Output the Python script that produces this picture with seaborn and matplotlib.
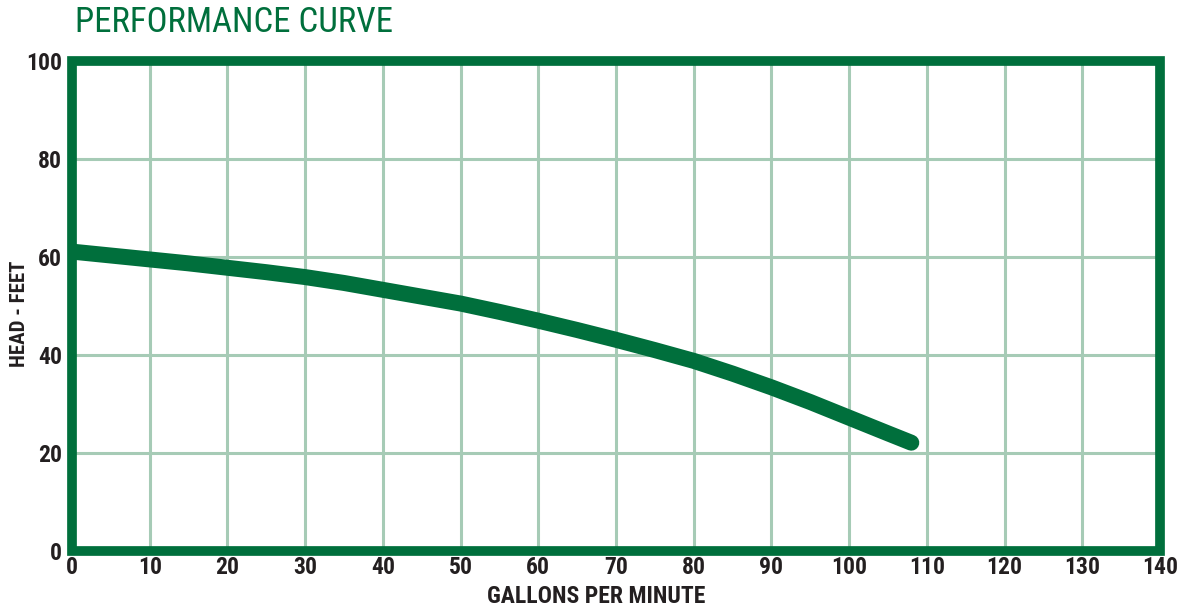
import numpy as np
import pandas as pd
import seaborn as sns
import matplotlib
matplotlib.use("Agg")
import matplotlib.pyplot as plt
from matplotlib.patches import Rectangle

# values
gpm = [0, 5, 10, 15, 20, 25, 30, 35, 40, 45, 50, 55, 60, 65, 70, 75, 80, 85,
       90, 95, 100, 105, 108]
head = [61.0, 60.2, 59.4, 58.6, 57.7, 56.8, 55.8, 54.6, 53.2, 51.8, 50.4,
        48.7, 46.9, 45.0, 43.0, 40.9, 38.7, 36.1, 33.3, 30.3, 27.1, 23.9, 22.0]
x_ticks = list(range(0, 141, 10))
y_ticks = list(range(0, 101, 20))

green = "#006f3c"
grid_green = "#a6cbb6"
ink = "#231f20"

sns.set_theme(style="white")
narrow = ["Roboto Condensed", "Liberation Sans Narrow", "Roboto", "DejaVu Sans"]
plt.rcParams["font.family"] = narrow

df = pd.DataFrame({"gpm": gpm, "head": head})

fig = plt.figure(figsize=(11.89, 6.11), dpi=100)
ax = fig.add_axes([72 / 1189, (611 - 550.5) / 611, 1088 / 1189, 490 / 611])

sns.lineplot(data=df, x="gpm", y="head", ax=ax, color=green, linewidth=11.5,
             solid_capstyle="round", zorder=3)

ax.set_xlim(0, 140)
ax.set_ylim(0, 100)
ax.set_xticks(x_ticks)
ax.set_yticks(y_ticks)
ax.grid(True, color=grid_green, linewidth=2.2)
ax.set_axisbelow(True)

# thick frame drawn as one rectangle so the corners join cleanly
for s in ax.spines.values():
    s.set_visible(False)
ax.add_patch(Rectangle((0, 0), 1, 1, transform=ax.transAxes, fill=False,
                       edgecolor=green, linewidth=7, joinstyle="miter",
                       clip_on=False, zorder=4))

ax.tick_params(axis="both", length=0, labelsize=17, labelcolor=ink)
ax.tick_params(axis="x", pad=4)
ax.tick_params(axis="y", pad=7)
for lab in ax.get_xticklabels() + ax.get_yticklabels():
    lab.set_fontweight("bold")
    lab.set_family(narrow)

ax.set_xlabel("GALLONS PER MINUTE", fontsize=17, fontweight="bold", color=ink)
ax.set_ylabel("HEAD - FEET", fontsize=15, fontweight="bold", color=ink)
ax.xaxis.set_label_coords(0.4816, -0.0929)
ax.yaxis.set_label_coords(-0.0478, 0.483)
ax.xaxis.label.set_va("center")
ax.yaxis.label.set_va("center")

fig.text(75 / 1189, 1 - 22 / 611, "PERFORMANCE CURVE", fontsize=25,
         color=green, ha="left", va="center")

fig.savefig("out.png", dpi=100)
